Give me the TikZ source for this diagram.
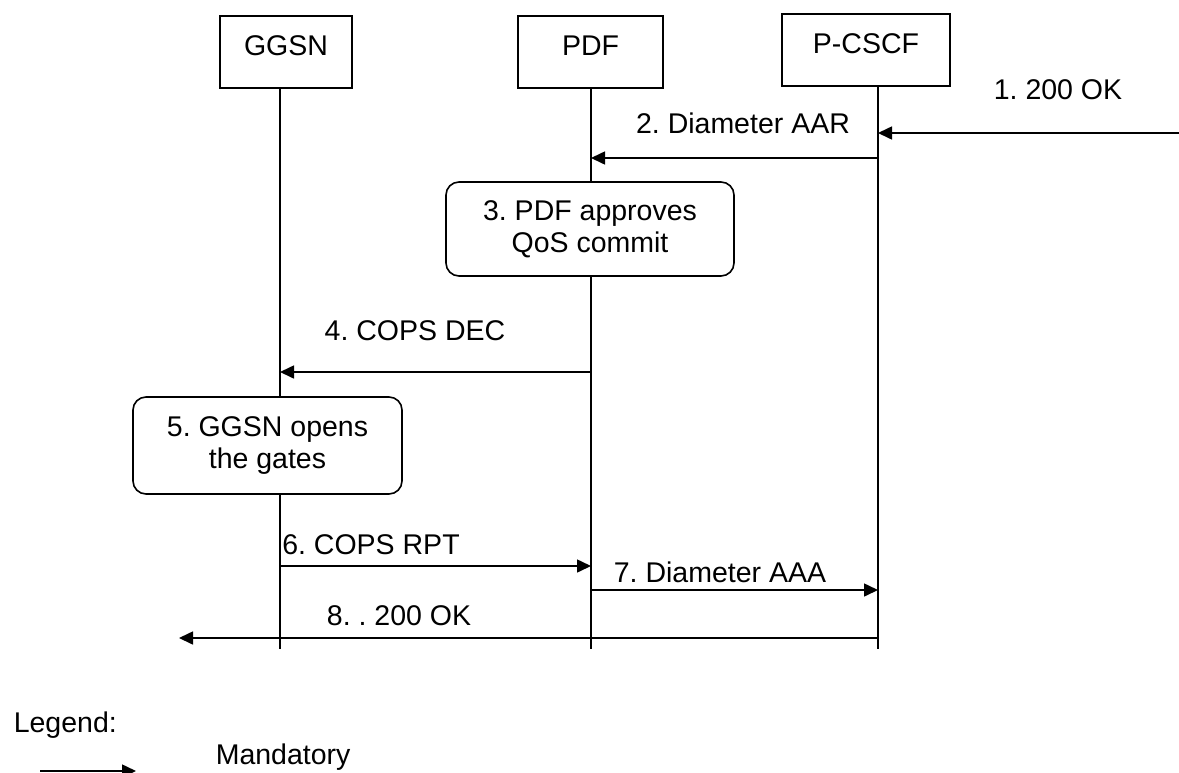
\documentclass[tikz,border=0pt]{standalone}
\usepackage{fontspec}
\setmainfont{Liberation Sans}
\usetikzlibrary{arrows.meta}
\frenchspacing
\begin{document}
\begin{tikzpicture}[x=1pt,y=-1pt,
  every node/.style={font=\fontsize{28.5}{33}\selectfont, inner sep=0pt},
  line width=1.6pt,
  msg/.style={-{Triangle[length=14pt,width=13pt]}},
  entity/.style={draw, minimum height=72pt, text height=20pt, text depth=14pt},
  proc/.style={draw, rounded corners=13pt, align=center},
  lbl/.style={anchor=center}]
\useasboundingbox (0,0) rectangle (1179,772);
% entities
\node[entity, minimum width=132pt] (ggsn) at (286,52) {GGSN};
\node[entity, minimum width=145pt] (pdf) at (590.5,52) {PDF};
\node[entity, minimum width=168pt] (pcscf) at (866,50) {P-CSCF};
% lifelines
\coordinate (gt) at (280,88);  \coordinate (gb) at (280,649);
\coordinate (pt) at (591,88);  \coordinate (pb) at (591,649);
\coordinate (ct) at (878,86);  \coordinate (cb) at (878,649);
\draw (gt) -- (gb);
\draw (pt) -- (pb);
\draw (ct) -- (cb);
% process boxes
\node[proc, minimum width=288pt, minimum height=94pt, fill=white] (s3) at (590,229) {3. PDF approves\\[-1pt]QoS commit};
\node[proc, minimum width=269pt, minimum height=97pt, fill=white] (s5) at (267.5,445.5) {5. GGSN opens\\[-1pt]the gates};
% message coordinates
\coordinate (m1s) at (1179,133); \coordinate (m1e) at (878,133);
\coordinate (m2s) at (878,158);  \coordinate (m2e) at (591,158);
\coordinate (m4s) at (591,372);  \coordinate (m4e) at (280,372);
\coordinate (m6s) at (280,566);  \coordinate (m6e) at (591,566);
\coordinate (m7s) at (591,590);  \coordinate (m7e) at (878,590);
\coordinate (m8s) at (878,638);  \coordinate (m8e) at (179,638);
\draw[msg] (m1s) -- (m1e);
\draw[msg] (m2s) -- (m2e);
\draw[msg] (m4s) -- (m4e);
\draw[msg] (m6s) -- (m6e);
\draw[msg] (m7s) -- (m7e);
\draw[msg] (m8s) -- (m8e);
% labels
\node[lbl] (l1) at (1058,90) {1. 200 OK};
\node[lbl] (l2) at (743,123) {2. Diameter AAR};
\node[lbl] (l4) at (415,331) {4. COPS DEC};
\node[lbl] (l6) at (371,545) {6. COPS RPT};
\node[lbl] (l7) at (720,572) {7. Diameter AAA};
\node[lbl] (l8) at (399,616) {8. . 200 OK};
% legend
\node[anchor=west] (leg) at (13,725) {Legend:};
\node[anchor=west] (mand) at (215,757) {Mandatory};
\coordinate (la) at (40,771); \coordinate (lb) at (136,771);
\draw[msg] (la) -- (lb);
\end{tikzpicture}
\end{document}
